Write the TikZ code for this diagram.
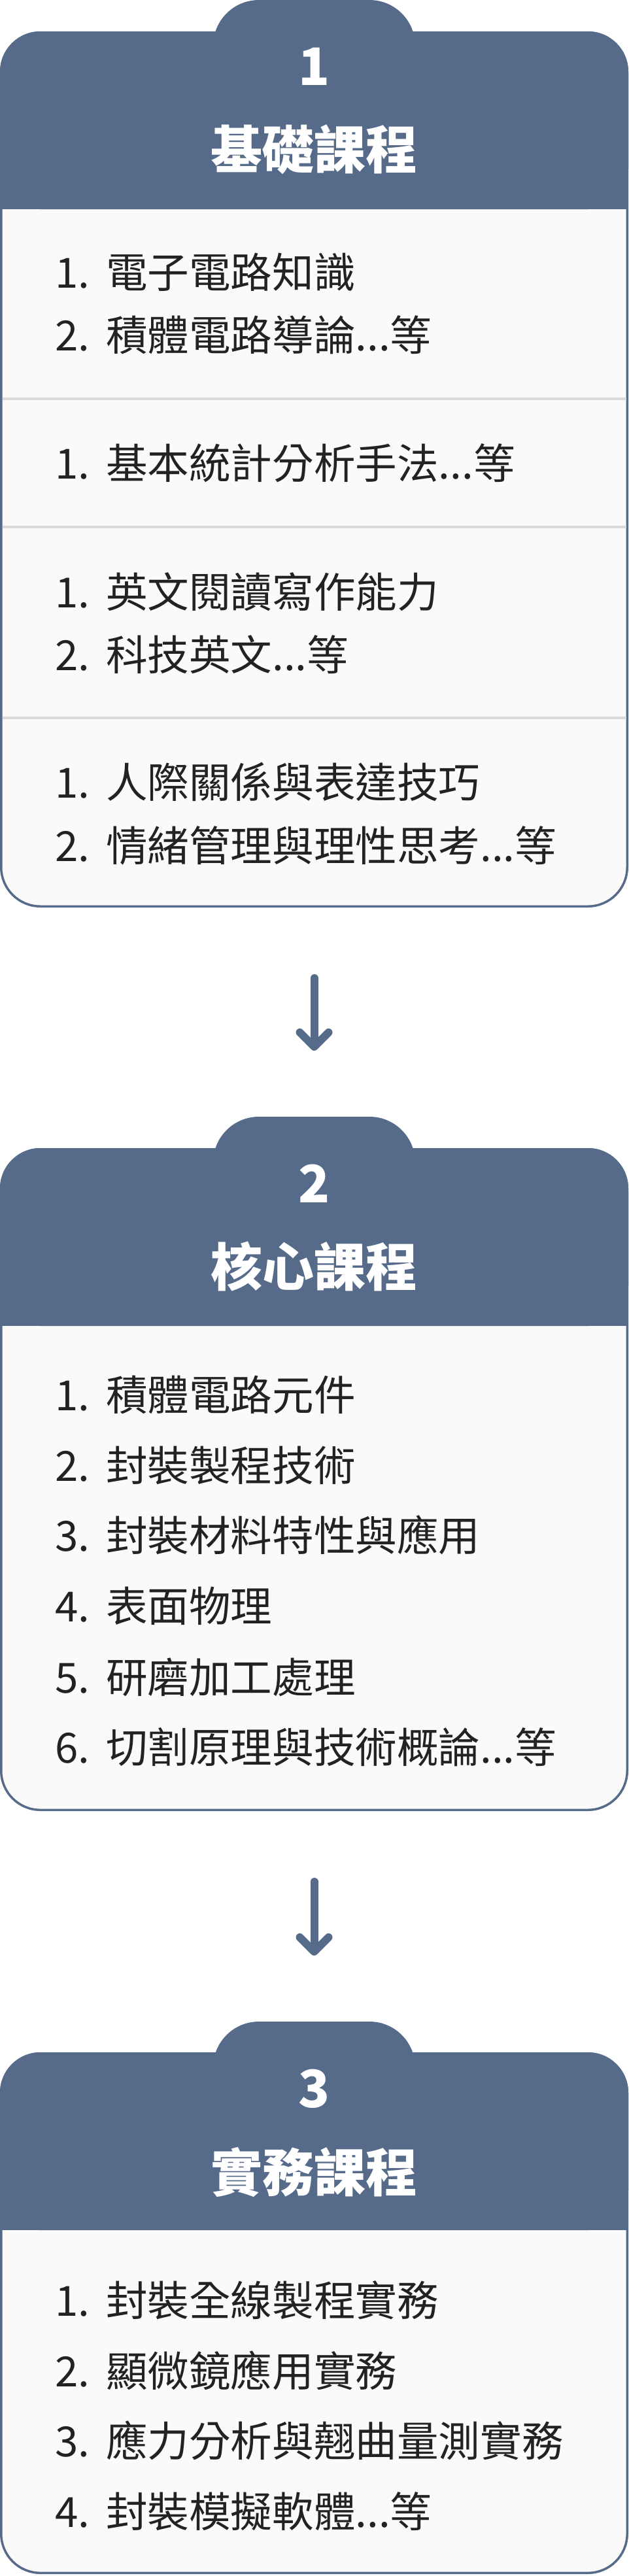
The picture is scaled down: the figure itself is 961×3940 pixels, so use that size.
\documentclass[tikz,border=0pt]{standalone}
\usepackage{fontspec}
\setmainfont{Noto Sans CJK TC}
\usetikzlibrary{arrows.meta}

\definecolor{headblue}{RGB}{86,106,138}
\definecolor{bodygray}{RGB}{250,250,250}
\definecolor{rulegray}{RGB}{218,218,218}
\definecolor{inkgray}{RGB}{34,34,34}

\newcommand{\listno}[1]{\makebox[78pt][l]{#1.}}

\tikzset{
  tabshape/.style={fill=headblue, rounded corners=70pt, minimum width=309pt,
    minimum height=140pt, anchor=north, inner sep=0pt, outer sep=0pt},
  cardbox/.style={draw=headblue, fill=bodygray, line width=3.5pt,
    rounded corners=60pt, minimum width=957.5pt, anchor=north, inner sep=0pt},
  headblock/.style={fill=headblue, rounded corners=61.75pt, minimum width=961pt,
    minimum height=272pt, anchor=north, inner sep=0pt, outer sep=0pt},
  numtext/.style={text=white, font=\fontsize{79pt}{88pt}\selectfont\bfseries, inner sep=0pt},
  titletext/.style={text=white, font=\fontsize{79pt}{88pt}\selectfont\bfseries, inner sep=0pt},
  itemtext/.style={text=inkgray, font=\fontsize{63.6pt}{72pt}\selectfont, anchor=west, inner sep=0pt},
  divider/.style={draw=rulegray, line width=4pt},
  flowarrow/.style={draw=headblue, line width=12pt, line cap=round,
    -{Straight Barb[length=22pt, width=44pt, round]}, shorten <=108pt, shorten >=101pt}
}

\begin{document}
\begin{tikzpicture}[x=1pt, y=-1pt]
  \useasboundingbox (0,0) rectangle (961,3940);

  % Card 1: basic courses
  \node[tabshape] (tab1) at (480.5,0) {};
  \node[cardbox, minimum height=1336.5pt] (box1) at (480.5,48) {};
  \node[headblock] (head1) at (480.5,48) {};
  \fill[headblue] (head1.west) rectangle (head1.south east);
  \node[numtext] (num1) at (480.5,102) {1};
  \node[titletext] (title1) at (480.5,229) {基礎課程};

  \node[itemtext] (b1i1) at (84,416) {\listno{1}電子電路知識};
  \node[itemtext] (b1i2) at (84,512) {\listno{2}積體電路導論...等};
  \draw[divider] (3.5,610) -- (957.5,610);
  \node[itemtext] (b1i3) at (84,708) {\listno{1}基本統計分析手法...等};
  \draw[divider] (3.5,806) -- (957.5,806);
  \node[itemtext] (b1i4) at (84,905) {\listno{1}英文閱讀寫作能力};
  \node[itemtext] (b1i5) at (84,1001) {\listno{2}科技英文...等};
  \draw[divider] (3.5,1098) -- (957.5,1098);
  \node[itemtext] (b1i6) at (84,1196) {\listno{1}人際關係與表達技巧};
  \node[itemtext] (b1i7) at (84,1293) {\listno{2}情緒管理與理性思考...等};

  % Card 2: core courses
  \node[tabshape] (tab2) at (480.5,1708) {};
  \node[cardbox, minimum height=1010.5pt] (box2) at (480.5,1756) {};
  \node[headblock] (head2) at (480.5,1756) {};
  \fill[headblue] (head2.west) rectangle (head2.south east);
  \node[numtext] (num2) at (480.5,1810) {2};
  \node[titletext] (title2) at (480.5,1937) {核心課程};

  \node[itemtext] (b2i1) at (84,2133) {\listno{1}積體電路元件};
  \node[itemtext] (b2i2) at (84,2241) {\listno{2}封裝製程技術};
  \node[itemtext] (b2i3) at (84,2348) {\listno{3}封裝材料特性與應用};
  \node[itemtext] (b2i4) at (84,2456) {\listno{4}表面物理};
  \node[itemtext] (b2i5) at (84,2565) {\listno{5}研磨加工處理};
  \node[itemtext] (b2i6) at (84,2672) {\listno{6}切割原理與技術概論...等};

  % Card 3: practical courses
  \node[tabshape] (tab3) at (480.5,3092) {};
  \node[cardbox, minimum height=794.5pt] (box3) at (480.5,3139) {};
  \node[headblock] (head3) at (480.5,3139) {};
  \fill[headblue] (head3.west) rectangle (head3.south east);
  \node[numtext] (num3) at (480.5,3195) {3};
  \node[titletext] (title3) at (480.5,3322) {實務課程};

  \node[itemtext] (b3i1) at (84,3518) {\listno{1}封裝全線製程實務};
  \node[itemtext] (b3i2) at (84,3626) {\listno{2}顯微鏡應用實務};
  \node[itemtext] (b3i3) at (84,3733) {\listno{3}應力分析與翹曲量測實務};
  \node[itemtext] (b3i4) at (84,3841) {\listno{4}封裝模擬軟體...等};

  % Flow arrows
  \draw[flowarrow] (box1.south) -- (tab2.north);
  \draw[flowarrow] (box2.south) -- (tab3.north);
\end{tikzpicture}
\end{document}
